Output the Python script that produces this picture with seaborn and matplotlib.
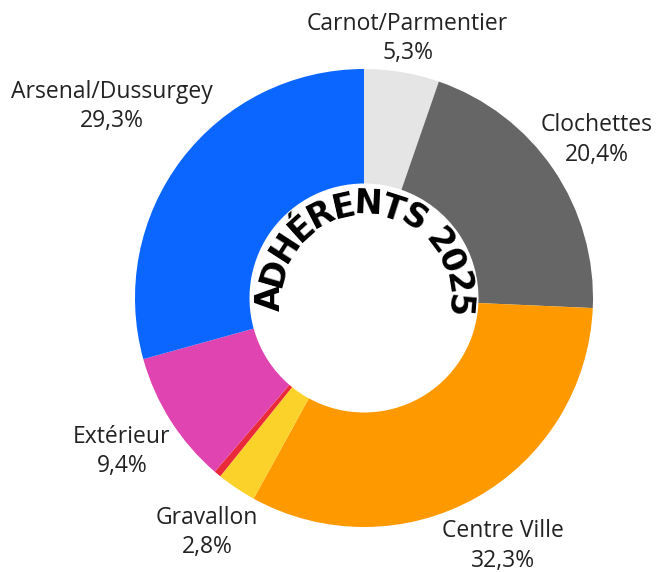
import numpy as np
import seaborn as sns
import matplotlib.pyplot as plt
from matplotlib.font_manager import FontProperties

# Donnees (sens horaire depuis midi)
quartiers = ["Carnot/Parmentier", "Clochettes", "Centre Ville", "Gravallon", "Autre", "Extérieur", "Arsenal/Dussurgey"]
pourcentages = [5.3, 20.4, 32.3, 2.8, 0.5, 9.4, 29.3]
couleurs = ["#e5e5e5", "#666666", "#ff9900", "#fbd22a", "#ea2a3a", "#e044b0", "#0b66ff"]
afficher = [True, True, True, True, False, True, True]
titre = "ADHÉRENTS 2025"

sns.set_theme(style="white")
plt.rcParams['font.family'] = ['Open Sans', 'DejaVu Sans']

W, H = 656, 572
fig = plt.figure(figsize=(W / 100, H / 100), dpi=100)
R_px = 229
cx, cy = 364, 298
ax = fig.add_axes([(cx - R_px) / W, (H - cy - R_px) / H, 2 * R_px / W, 2 * R_px / H])

wedges, _ = ax.pie(pourcentages, colors=sns.color_palette(couleurs), startangle=90, counterclock=False,
                   wedgeprops=dict(width=0.5, linewidth=0))
ax.set_xlim(-1, 1)
ax.set_ylim(-1, 1)
ax.set_aspect('equal')
ax.axis('off')

renderer = fig.canvas.get_renderer()

# etiquettes exterieures
for w, nom, val, ok in zip(wedges, quartiers, pourcentages, afficher):
    if not ok:
        continue
    th = np.deg2rad((w.theta1 + w.theta2) / 2)
    txt = ax.text(0, 0, f"{nom}\n{val:.1f}%".replace('.', ','), ha='center', va='center',
                  fontsize=16.5, color='#222222', linespacing=1.3, clip_on=False)
    bb = txt.get_window_extent(renderer)
    hw, hh = bb.width / 2 / R_px, bb.height / 2 / R_px
    gap = 0.96 if np.sin(th) > 0 else 1.01
    r = gap + hw * abs(np.cos(th)) + hh * abs(np.sin(th))
    txt.set_position((r * np.cos(th), r * np.sin(th)))

# titre courbe au centre
fp = FontProperties(family='DejaVu Sans', weight='bold', size=24)
largeurs = [0.88 * renderer.get_text_width_height_descent(c, fp, ismath=False)[0] for c in titre]
r_t = 84
ang = np.deg2rad(88) + sum(largeurs) / 2 / r_t
for c, lw in zip(titre, largeurs):
    a = ang - lw / 2 / r_t
    ax.text(r_t / R_px * np.cos(a), r_t / R_px * np.sin(a), c, rotation=np.rad2deg(a) - 90,
            rotation_mode='anchor', ha='center', va='baseline', fontproperties=fp, color='black')
    ang -= lw / r_t

fig.savefig('out.png', dpi=100)
